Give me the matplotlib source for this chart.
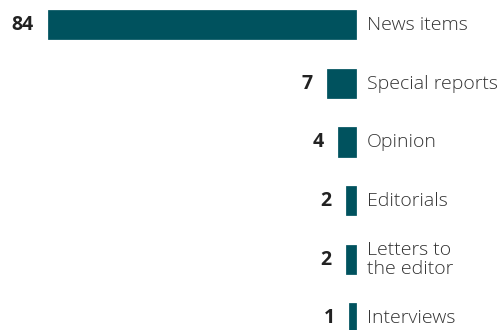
import matplotlib
matplotlib.use("Agg")
import matplotlib.pyplot as plt

categories = ["News items", "Special reports", "Opinion", "Editorials",
              "Letters to\nthe editor", "Interviews"]
values = [84, 7, 4, 2, 2, 1]

bar_color = "#00525E"
text_color = "#333333"

fig = plt.figure(figsize=(4.99, 3.30), dpi=100)
ax = fig.add_axes([0, 0, 1, 1])

ypos = list(range(len(values)))
# edge in the same colour gives the small bars their minimum width
ax.barh(ypos, values, height=0.447, color=bar_color,
        edgecolor=bar_color, linewidth=2.7)

for y, v, c in zip(ypos, values, categories):
    ax.annotate(str(v), xy=(v, y), xytext=(-11.8, 0), textcoords="offset points",
                ha="right", va="center", fontsize=14, fontweight="bold",
                color="#222222", family="Open Sans")
    ax.annotate(c, xy=(0, y), xytext=(8.8, 0), textcoords="offset points",
                ha="left", va="center", fontsize=14, color=text_color,
                family="Open Sans", fontweight="light", linespacing=1.1)

ax.set_xlim(97.63, -39.68)
ax.set_ylim(5.196, -0.426)
ax.axis("off")

fig.savefig("out.png", dpi=100)
